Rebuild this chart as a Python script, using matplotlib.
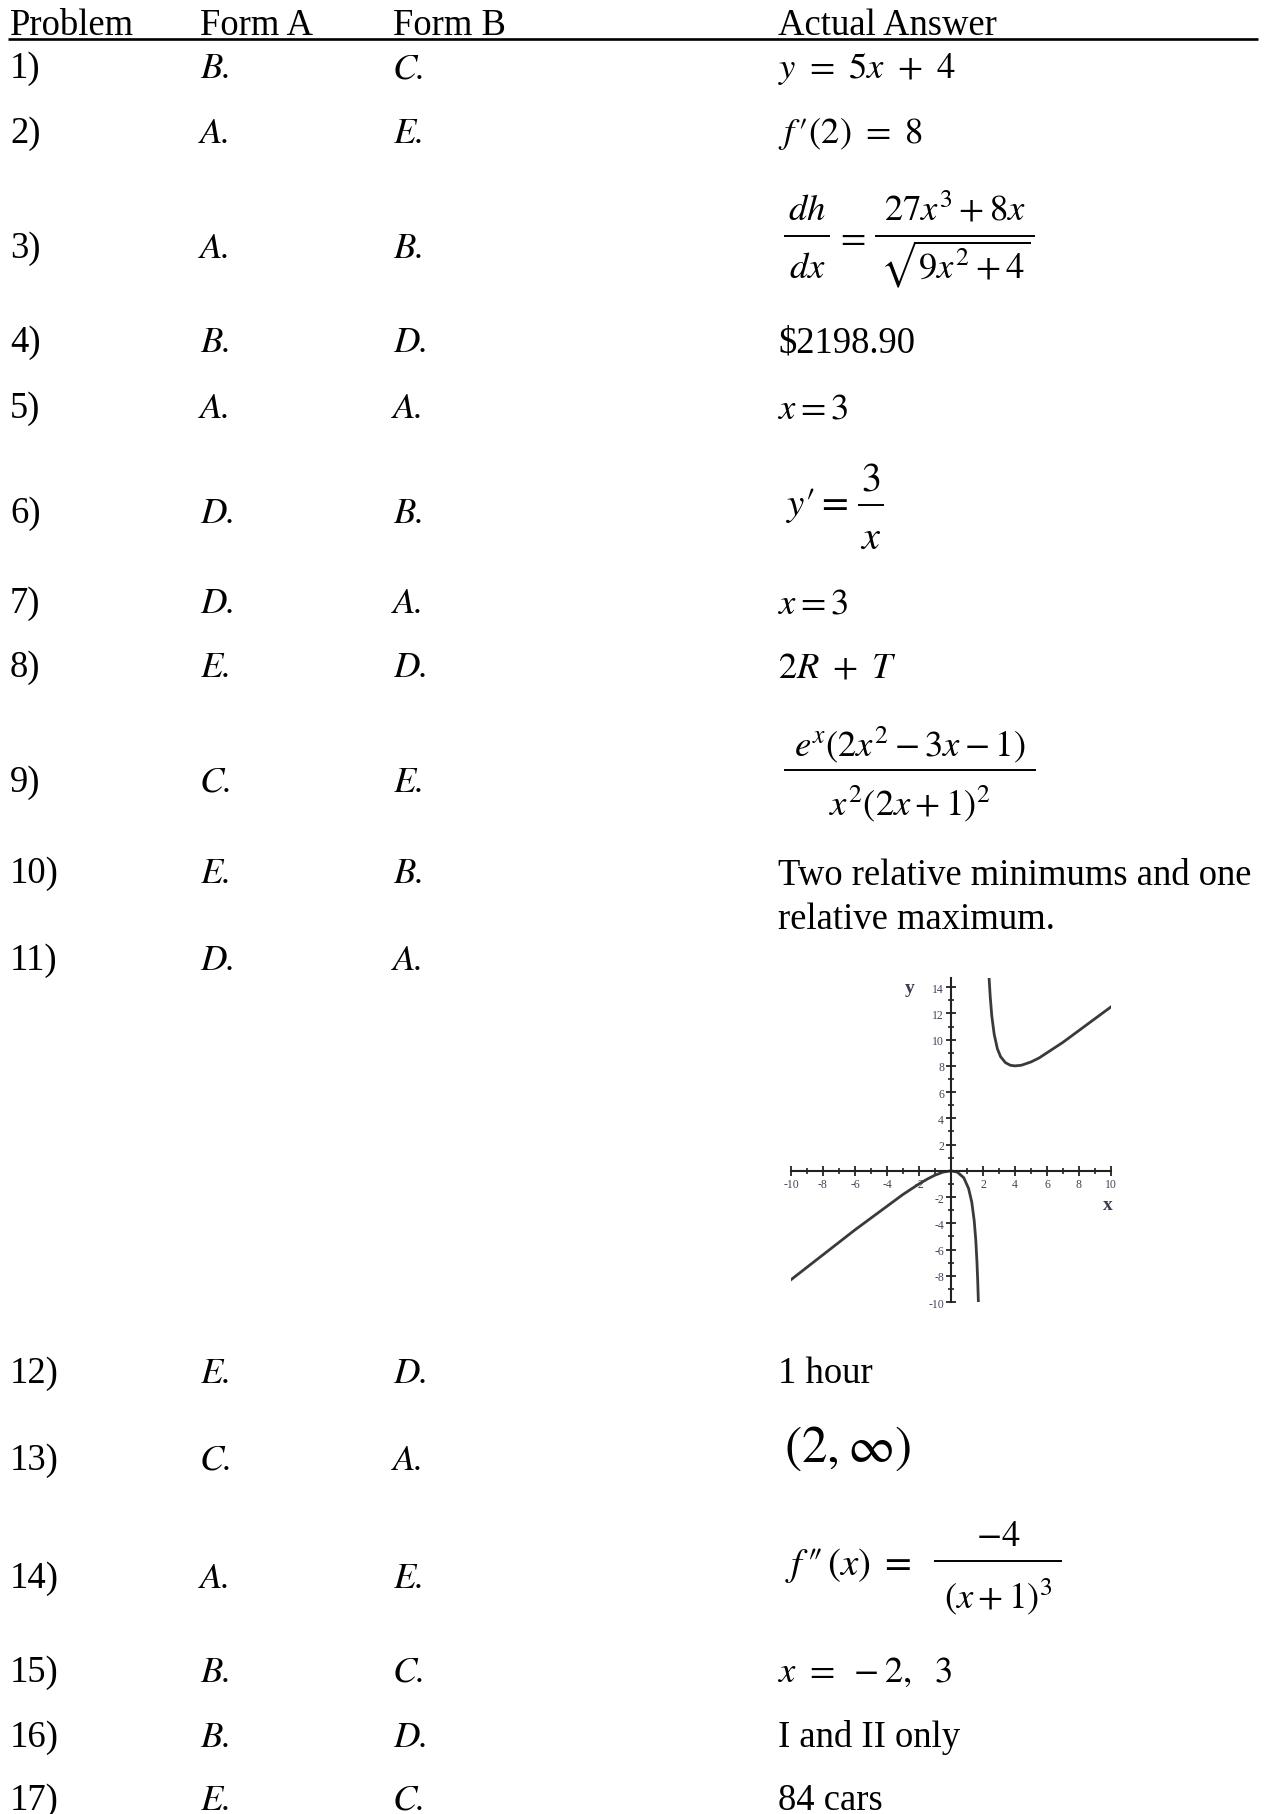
import matplotlib
matplotlib.use("Agg")
import matplotlib.pyplot as plt

plt.rcParams["font.family"] = ["Liberation Serif", "DejaVu Serif"]
plt.rcParams["mathtext.fontset"] = "stix"

# table content
headers = ["Problem", "Form A", "Form B", "Actual Answer"]
problems = ["1)", "2)", "3)", "4)", "5)", "6)", "7)", "8)", "9)", "10)",
            "11)", "12)", "13)", "14)", "15)", "16)", "17)"]
form_a = ["B.", "A.", "A.", "B.", "A.", "D.", "D.", "E.", "C.", "E.",
          "D.", "E.", "C.", "A.", "B.", "B.", "E."]
form_b = ["C.", "E.", "B.", "D.", "A.", "B.", "A.", "D.", "E.", "B.",
          "A.", "D.", "A.", "E.", "C.", "D.", "C."]
# plain answers are strings, fractions are (prefix, numerator, denominator)
answers = [
    r"$y\ =\ 5x\ +\ 4$",
    "$f\\,\u2032(2)\\ =\\ 8$",
    ("", r"$dh$", r"$dx$"),
    r"\$2198.90",
    r"$x = 3$",
    ("$y\u2032 =$", r"$3$", r"$x$"),
    r"$x = 3$",
    r"$2R\ +\ T$",
    ("", r"$e^{x}(2x^{2}-3x-1)$", r"$x^{2}(2x+1)^{2}$"),
    ["Two relative minimums and one", "relative maximum."],
    "",
    "1 hour",
    r"$(2,\infty)$",
    ("$f\\,\u2033\\,(x)\\;=$", r"$-4$", r"$(x+1)^{3}$"),
    r"$x\ =\ -2,\ \ 3$",
    "I and II only",
    "84 cars",
]
# second fraction of answer 3)
answer3_rhs = (r"$27x^{3}+8x$", r"$\sqrt{9x^{2}+4}$")

# curve in the answer to 11)
left_x = [-10, -9, -8, -7, -6, -5, -4, -3, -2, -1.5, -1, -0.5, 0, 0.4, 0.8,
          1.1, 1.3, 1.45, 1.55, 1.62, 1.67, 1.71]
left_y = [-8.3, -7.35, -6.4, -5.45, -4.5, -3.6, -2.7, -1.8, -1.0, -0.64, -0.33,
          -0.1, 0, -0.1, -0.53, -1.35, -2.4, -3.8, -5.3, -6.9, -8.4, -9.95]
right_x = [2.38, 2.45, 2.55, 2.7, 2.9, 3.1, 3.4, 3.7, 4.0, 4.4, 5, 5.5, 6, 7,
           8, 9, 10]
right_y = [14.7, 13.3, 11.8, 10.4, 9.3, 8.7, 8.25, 8.05, 8.0, 8.05, 8.3, 8.6,
           9.0, 9.8, 10.7, 11.6, 12.5]
x_ticks = [-10, -8, -6, -4, -2, 0, 2, 4, 6, 8, 10]
y_ticks = [-10, -8, -6, -4, -2, 0, 2, 4, 6, 8, 10, 12, 14]

# layout (pixels from top-left)
W, H = 1266, 1815
col_x = [10, 200, 393, 778]
header_y = 35
row_y = [78, 143, 258, 352, 418, 523, 613, 677, 792, 883, 970, 1383, 1470,
         1588, 1682, 1747, 1810]
fs = 26.4
ital = dict(family="STIXGeneral", style="italic")

fig = plt.figure(figsize=(W / 100, H / 100), dpi=100)
ax = fig.add_axes([0, 0, 1, 1])
ax.set_xlim(0, W)
ax.set_ylim(H, 0)
ax.axis("off")


def put(x, y, s, size=fs, ha="left"):
    ax.text(x, y, s, fontsize=size, va="baseline", ha=ha)


def fraction(num, den, x0, x1, bar_y, num_y, den_y, size=fs):
    cx = (x0 + x1) / 2
    put(cx, num_y, num, size, "center")
    put(cx, den_y, den, size, "center")
    ax.plot([x0, x1], [bar_y, bar_y], color="black", lw=1.4,
            solid_capstyle="butt")


for x, h in zip(col_x, headers):
    put(x, header_y, h)
ax.plot([8, 1258], [40, 40], color="black", lw=1.9, solid_capstyle="butt")

for i in range(len(problems)):
    y = row_y[i]
    put(col_x[0], y, problems[i])
    ax.text(col_x[1], y, form_a[i], fontsize=fs, va="baseline", **ital)
    ax.text(col_x[2], y, form_b[i], fontsize=fs, va="baseline", **ital)

# answers column
put(col_x[3], 78, answers[0])
put(col_x[3], 143, answers[1])
fraction(answers[2][1], answers[2][2], 784, 830, 237, 220, 278)
put(835, 247, r"$=$")
fraction(answer3_rhs[0], answer3_rhs[1], 875, 1035, 237, 220, 278)
put(col_x[3], 352, answers[3])
put(col_x[3], 418, answers[4])
put(786, 515, answers[5][0], 28)
fraction(answers[5][1], answers[5][2], 858, 884, 506, 490, 549, 29)
put(col_x[3], 613, answers[6])
put(col_x[3], 677, answers[7])
fraction(answers[8][1], answers[8][2], 784, 1036, 771, 756, 815)
put(col_x[3], 885, answers[9][0])
put(col_x[3], 929, answers[9][1])
put(col_x[3], 1383, answers[11])
put(784, 1462, answers[12], 37)
put(785, 1575, answers[13][0], 28)
fraction(answers[13][1], answers[13][2], 934, 1062, 1562, 1546, 1608)
put(col_x[3], 1682, answers[14])
put(col_x[3], 1747, answers[15])
put(col_x[3], 1810, answers[16])

# small graph for 11)
gx0, gx1, gy0, gy1 = 791, 1111, 979, 1303
g = fig.add_axes([gx0 / W, (H - gy1) / H, (gx1 - gx0) / W, (gy1 - gy0) / H])
g.set_xlim(-10, 10)
g.set_ylim(-10, 14.7)
g.patch.set_alpha(0)
for s in ["top", "right"]:
    g.spines[s].set_visible(False)
for s in ["left", "bottom"]:
    g.spines[s].set_position(("data", 0))
    g.spines[s].set_linewidth(1.5)
    g.spines[s].set_color("#222222")
g.set_xticks(x_ticks, labels=["" if v == 0 else str(v) for v in x_ticks])
g.set_yticks(y_ticks, labels=["" if v == 0 else str(v) for v in y_ticks])
g.set_xticks(list(range(-9, 10, 2)), minor=True)
g.set_yticks(list(range(-9, 15, 2)), minor=True)
g.tick_params(which="major", direction="inout", length=7, width=1.3,
              labelsize=8.5, labelcolor="#444458", pad=1.5, color="#222222")
g.tick_params(which="minor", direction="inout", length=4.5, width=1.2,
              color="#222222")
g.plot(left_x, left_y, color="#3a3a3a", lw=2.0)
g.plot(right_x, right_y, color="#3a3a3a", lw=2.0)
g.text(-2.6, 14.0, "y", fontsize=14, fontweight="bold", color="#3a3a50",
       ha="center", va="center")
g.text(9.8, -2.6, "x", fontsize=14, fontweight="bold", color="#3a3a50",
       ha="center", va="center")

fig.savefig("out.png", dpi=100)
